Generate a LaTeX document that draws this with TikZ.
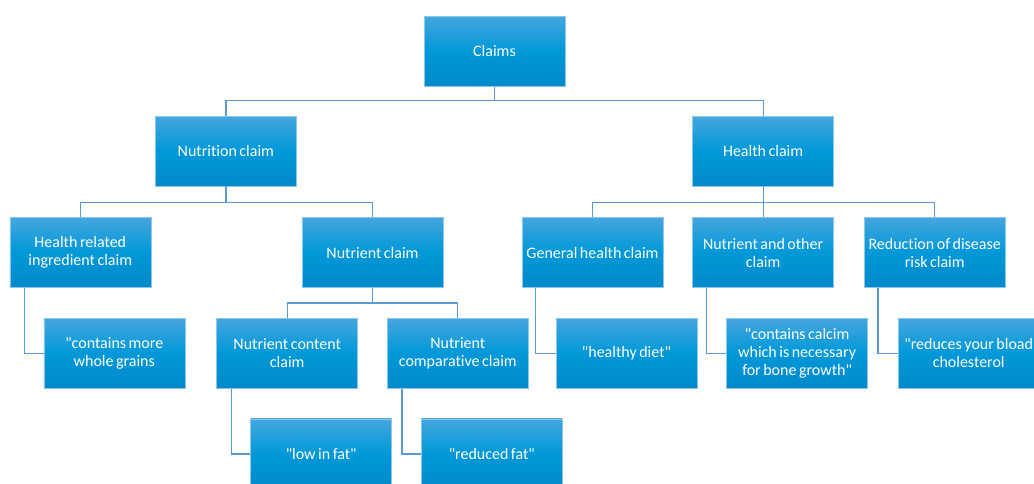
\documentclass[tikz,border=0pt]{standalone}
\usepackage{fontspec}
\setmainfont{Carlito}[WordSpace=0.7, Ligatures=NoCommon]
\usetikzlibrary{positioning}

\definecolor{boxtop}{HTML}{45A6DE}
\definecolor{boxmid}{HTML}{0098D8}
\definecolor{boxbottom}{HTML}{0089CA}
\definecolor{boxline}{HTML}{8CC8EA}
\definecolor{linkblue}{HTML}{5B9BD5}

\begin{document}
\begin{tikzpicture}[
    node distance=30pt and 30pt,
    every node/.style={draw=boxline, line width=0.6pt, align=center, text=white,
        minimum width=141pt, minimum height=70pt, inner sep=1pt,
        top color=boxtop, bottom color=boxbottom, middle color=boxmid,
        font=\fontsize{16pt}{18pt}\selectfont},
    root/.style={rectangle},
    category/.style={rectangle},
    subclaim/.style={rectangle},
    wording/.style={rectangle},
    link/.style={draw=linkblue, line width=1.2pt}
]
    \useasboundingbox (0,0) rectangle (1034pt,-484pt);

    % Root
    \node[root] (claims) at (494.5pt,-51.5pt) {Claims};

    % Two kinds of claims
    \node[category, below left=29pt and 127pt of claims] (nutrition) {Nutrition claim};
    \node[category, below right=29pt and 127pt of claims] (health) {Health claim};

    % Nutrition side
    \node[subclaim, below left=31pt and 4pt of nutrition] (healthrel) {Health related\\ ingredient claim};
    \node[subclaim, below right=31pt and 5pt of nutrition] (nutrient) {Nutrient claim};
    \node[subclaim, below left=30pt and 14.5pt of nutrient.south] (content) {Nutrient content\\ claim};
    \node[subclaim, below right=30pt and 14.5pt of nutrient.south] (comparative) {Nutrient\\ comparative claim};

    % Health side
    \node[subclaim, below=31pt of health] (nutrother) {Nutrient and other\\ claim};
    \node[subclaim, left=29pt of nutrother] (general) {General health claim};
    \node[subclaim, right=30pt of nutrother] (reduction) {Reduction of disease\\ risk claim};

    % Examples of wording
    \node[wording, below=30pt of healthrel, xshift=34pt] (grains) {\textquotedbl contains more\\ whole grains};
    \node[wording, below=30pt of content, xshift=34pt] (lowfat) {\textquotedbl low in fat\textquotedbl};
    \node[wording, below=30pt of comparative, xshift=34pt] (reducedfat) {\textquotedbl reduced fat\textquotedbl};
    \node[wording, below=30pt of general, xshift=34pt] (healthydiet) {\textquotedbl healthy diet\textquotedbl};
    \node[wording, below=30pt of nutrother, xshift=34pt] (calcim) {\textquotedbl contains calcim\\ which is necessary\\ for bone growth\textquotedbl};
    \node[wording, below=30pt of reduction, xshift=34pt] (cholesterol) {\textquotedbl reduces your bload\\ cholesterol};

    % Tree links
    \draw[link] (claims.south) -- ++(0,-14pt) -| (nutrition.north);
    \draw[link] (claims.south) -- ++(0,-14pt) -| (health.north);
    \draw[link] (nutrition.south) -- ++(0,-16pt) -| (healthrel.north);
    \draw[link] (nutrition.south) -- ++(0,-16pt) -| (nutrient.north);
    \draw[link] (nutrient.south) -- ++(0,-15pt) -| (content.north);
    \draw[link] (nutrient.south) -- ++(0,-15pt) -| (comparative.north);
    \draw[link] (health.south) -- ++(0,-16pt) -| (general.north);
    \draw[link] (health.south) -- (nutrother.north);
    \draw[link] (health.south) -- ++(0,-16pt) -| (reduction.north);

    % Side links to the wording
    \draw[link] ([xshift=15pt]healthrel.south west) |- (grains.west);
    \draw[link] ([xshift=15pt]content.south west) |- (lowfat.west);
    \draw[link] ([xshift=15pt]comparative.south west) |- (reducedfat.west);
    \draw[link] ([xshift=14pt]general.south west) |- (healthydiet.west);
    \draw[link] ([xshift=14pt]nutrother.south west) |- (calcim.west);
    \draw[link] ([xshift=14pt]reduction.south west) |- (cholesterol.west);

\end{tikzpicture}
\end{document}
